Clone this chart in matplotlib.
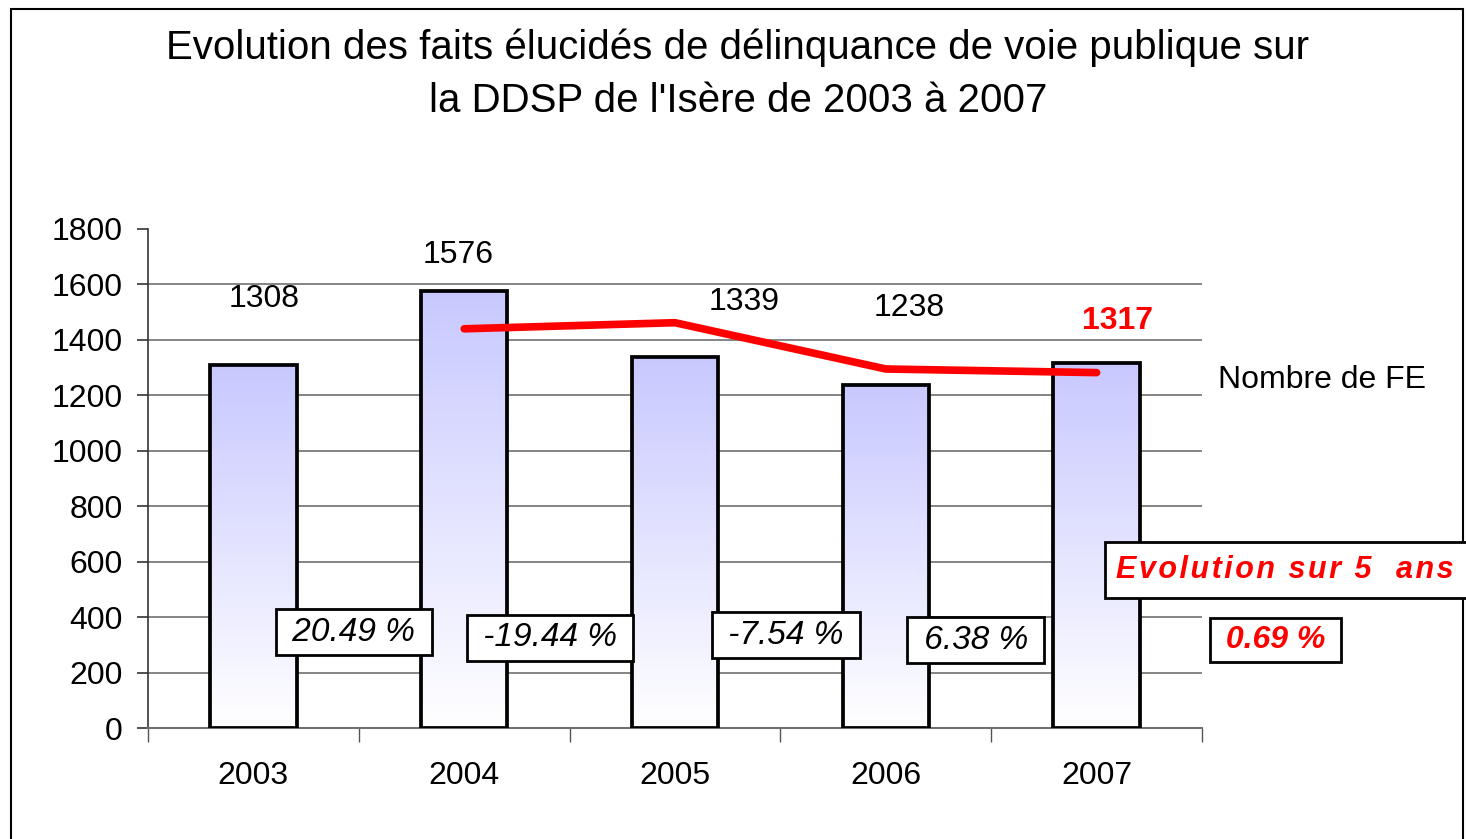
import numpy as np
import matplotlib
matplotlib.use('Agg')
import matplotlib.pyplot as plt
import matplotlib.patches as mpatches
from matplotlib.colors import LinearSegmentedColormap

plt.rcParams['font.family'] = ['Liberation Sans', 'DejaVu Sans']

years = ['2003', '2004', '2005', '2006', '2007']
nb_fe = [1308, 1576, 1339, 1238, 1317]
trend_years = ['2004', '2005', '2006', '2007']
trend_vals = [1440, 1462, 1295, 1282]
evol_labels = ['20.49 %', '-19.44 %', '-7.54 %', '6.38 %']
evol_total = '0.69 %'
y_ticks = [0, 200, 400, 600, 800, 1000, 1200, 1400, 1600, 1800]

# label placement (offsets from bar centre, y in data units)
val_pos = [(0.05, 1548), (-0.03, 1706), (0.33, 1537), (0.11, 1515), (0.10, 1468)]
evol_pos = [(0.477, 346), (1.407, 325), (2.526, 335), (3.427, 317)]

fig = plt.figure(figsize=(14.66, 8.39), dpi=100)
ax = fig.add_axes([148/1466, 1 - 728/839, (1202-148)/1466, (728-229)/839])

x = np.arange(len(years))
cmap = LinearSegmentedColormap.from_list('lav', ['#ffffff', '#c8c8ff'])
grad = np.linspace(0, 1, 256).reshape(-1, 1)
bars = ax.bar(x, nb_fe, width=0.41, facecolor='none', edgecolor='black', linewidth=2.7, zorder=3)
for b in bars:
    x0, w, h = b.get_x(), b.get_width(), b.get_height()
    im = ax.imshow(grad, cmap=cmap, aspect='auto', origin='lower',
                   extent=[x0, x0 + w, 0, h], zorder=2)
    im.set_clip_path(b)

tx = [years.index(t) for t in trend_years]
ax.plot(tx, trend_vals, color='#ff0000', linewidth=5.5, solid_capstyle='round',
        solid_joinstyle='round', zorder=4)

ax.set_xlim(-0.5, 4.5)
ax.set_ylim(0, 1800)
ax.set_yticks(y_ticks)
ax.set_yticklabels([str(v) for v in y_ticks], fontsize=23)
ax.set_xticks(x)
ax.set_xticklabels(years, fontsize=23)
ax.tick_params(axis='x', length=0, pad=24)
ax.tick_params(axis='y', length=8, width=1.2, color='#333333', pad=10)
ax.set_xticks(np.arange(-0.5, 5, 1), minor=True)
ax.tick_params(axis='x', which='minor', length=10, width=1, color='#555555', direction='out')
ax.hlines(y_ticks[1:-1], -0.5, 4.5, color='#707070', linewidth=1.2, zorder=1)
for s in ['top', 'right']:
    ax.spines[s].set_visible(False)
ax.spines['left'].set_color('#333333')
ax.spines['left'].set_linewidth(1.2)
ax.spines['bottom'].set_color('#707070')
ax.spines['bottom'].set_linewidth(1.5)

for i, (v, (dx, dy)) in enumerate(zip(nb_fe, val_pos)):
    last = i == len(nb_fe) - 1
    ax.text(i + dx, dy, str(v), fontsize=23, ha='center', va='center',
            color='#ff0000' if last else 'black', fontweight='bold' if last else 'normal', zorder=5)

for lab, (px, py) in zip(evol_labels, evol_pos):
    ax.text(px, py, ' ' + lab + ' ', fontsize=24, style='italic', ha='center', va='center', zorder=6,
            bbox=dict(boxstyle='square,pad=0.22', facecolor='white', edgecolor='black', linewidth=2))

ax.text(4.85, 317, ' ' + evol_total + ' ', fontsize=23, style='italic', fontweight='bold', color='#ff0000',
        ha='center', va='center', zorder=6,
        bbox=dict(boxstyle='square,pad=0.22', facecolor='white', edgecolor='black', linewidth=2))

# box for the 5-year caption, running off the right edge like the original
evol_box = mpatches.Rectangle((1105/1466, 1 - 598/839), 380/1466, 56/839, transform=fig.transFigure,
                              facecolor='white', edgecolor='black', linewidth=2, zorder=5)
fig.patches.append(evol_box)
evol_title = '\u200a'.join('Evolution sur 5  ans')
fig.text(1116/1466, 1 - 570/839, evol_title,
         fontsize=22, style='italic', fontweight='bold', color='#ff0000', ha='left', va='center', zorder=6)

fig.text(1218/1466, 1 - 380/839, 'Nombre de FE', fontsize=23, ha='left', va='center')

fig.text(738/1466, 1 - 74/839, "Evolution des faits élucidés de délinquance de voie publique sur\nla DDSP de l'Isère de 2003 à 2007",
         fontsize=29, ha='center', va='center', linespacing=1.5)

border = mpatches.Rectangle((11/1466, -0.05), (1463-11)/1466, 1.05 - 9/839, transform=fig.transFigure,
                            fill=False, edgecolor='black', linewidth=1.5, zorder=0)
fig.patches.append(border)

fig.savefig('out.png', dpi=100, facecolor='white')
